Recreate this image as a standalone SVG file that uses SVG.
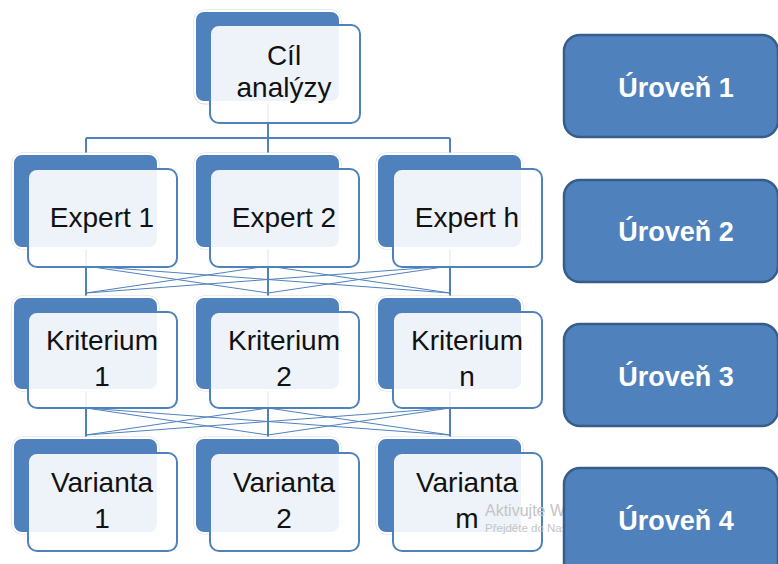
<svg xmlns="http://www.w3.org/2000/svg" width="778" height="564" viewBox="0 0 778 564">
<style>
.back{fill:#4f81bd;stroke:#ffffff;stroke-width:2}
.shadow{fill:none;stroke:#d9d9d9;stroke-width:1}
.front{fill:#ffffff;fill-opacity:0.9;stroke:#4f81bd;stroke-width:2}
.t{font-family:"Liberation Sans",Arial,sans-serif;font-size:28px;fill:#111111;text-anchor:middle}
.lvl{fill:#4f81bd;stroke:#385d8a;stroke-width:2.5}
.lt{font-family:"Liberation Sans",Arial,sans-serif;font-size:27px;font-weight:bold;fill:#ffffff;text-anchor:middle}
.thick{stroke:#4f81bd;stroke-width:2;fill:none}
.thin{stroke:#4f81bd;stroke-width:1;fill:none}
.wm{font-family:"Liberation Sans",Arial,sans-serif;fill:#c4c4c4}
</style>
<rect width="778" height="564" fill="#ffffff"/>
<g id="connectors">
  <path class="thick" d="M268 102V138M86 138H450M86 138V154M268 138V154M450 138V154"/>
  <path class="thick" d="M86 248V297M268 248V297M450 248V297"/>
  <path class="thin" d="M86 266L268 293M86 266L450 293M268 266L86 293M268 266L450 293M450 266L86 293M450 266L268 293"/>
  <path class="thick" d="M86 390V438M268 390V438M450 390V438"/>
  <path class="thin" d="M86 408L268 435M86 408L450 435M268 408L86 435M268 408L450 435M450 408L86 435M450 408L268 435"/>
</g>
<g id="goal">
  <rect class="shadow" x="194" y="10" width="147" height="94" rx="10"/>
  <rect class="back" x="195" y="11" width="145" height="91" rx="9"/>
  <rect class="front" x="210" y="25" width="150" height="98" rx="9"/>
  <text class="t" x="284" y="65">Cíl</text>
  <text class="t" x="284" y="97">analýzy</text>
</g>
<g id="expert1">
  <rect class="shadow" x="12" y="153" width="147" height="96" rx="10"/>
  <rect class="back" x="13" y="154" width="145" height="94" rx="9"/>
  <rect class="front" x="28" y="169" width="149" height="98" rx="9"/>
  <text class="t" x="102" y="227">Expert 1</text>
</g>
<g id="expert2">
  <rect class="shadow" x="194" y="153" width="147" height="96" rx="10"/>
  <rect class="back" x="195" y="154" width="145" height="94" rx="9"/>
  <rect class="front" x="210" y="169" width="149" height="98" rx="9"/>
  <text class="t" x="284" y="227">Expert 2</text>
</g>
<g id="experth">
  <rect class="shadow" x="376" y="153" width="147" height="96" rx="10"/>
  <rect class="back" x="377" y="154" width="145" height="94" rx="9"/>
  <rect class="front" x="393" y="169" width="149" height="98" rx="9"/>
  <text class="t" x="467" y="227">Expert h</text>
</g>
<g id="krit1">
  <rect class="shadow" x="12" y="296" width="147" height="95" rx="10"/>
  <rect class="back" x="13" y="297" width="145" height="93" rx="9"/>
  <rect class="front" x="28" y="312" width="149" height="96" rx="9"/>
  <text class="t" x="102" y="350">Kriterium</text>
  <text class="t" x="102" y="386">1</text>
</g>
<g id="krit2">
  <rect class="shadow" x="194" y="296" width="147" height="95" rx="10"/>
  <rect class="back" x="195" y="297" width="145" height="93" rx="9"/>
  <rect class="front" x="210" y="312" width="149" height="96" rx="9"/>
  <text class="t" x="284" y="350">Kriterium</text>
  <text class="t" x="284" y="386">2</text>
</g>
<g id="kritn">
  <rect class="shadow" x="376" y="296" width="147" height="95" rx="10"/>
  <rect class="back" x="377" y="297" width="145" height="93" rx="9"/>
  <rect class="front" x="393" y="312" width="149" height="96" rx="9"/>
  <text class="t" x="467" y="350">Kriterium</text>
  <text class="t" x="467" y="386">n</text>
</g>
<g id="var1">
  <rect class="shadow" x="12" y="437" width="147" height="97" rx="10"/>
  <rect class="back" x="13" y="438" width="145" height="95" rx="9"/>
  <rect class="front" x="28" y="453" width="149" height="98" rx="9"/>
  <text class="t" x="102" y="492">Varianta</text>
  <text class="t" x="102" y="528">1</text>
</g>
<g id="var2">
  <rect class="shadow" x="194" y="437" width="147" height="97" rx="10"/>
  <rect class="back" x="195" y="438" width="145" height="95" rx="9"/>
  <rect class="front" x="210" y="453" width="149" height="98" rx="9"/>
  <text class="t" x="284" y="492">Varianta</text>
  <text class="t" x="284" y="528">2</text>
</g>
<g id="varm">
  <rect class="shadow" x="376" y="437" width="147" height="97" rx="10"/>
  <rect class="back" x="377" y="438" width="145" height="95" rx="9"/>
  <rect class="front" x="393" y="453" width="149" height="98" rx="9"/>
  <text class="t" x="467" y="492">Varianta</text>
  <text class="t" x="467" y="528">m</text>
</g>
<g id="watermark">
  <text class="wm" x="485" y="516" font-size="16">Aktivujte Windows</text>
  <text class="wm" x="485" y="532" font-size="11.5">Přejděte do Nastavení</text>
</g>
<g id="level1">
  <rect class="lvl" x="564" y="35" width="214" height="102" rx="16"/>
  <text class="lt" x="676" y="97">Úroveň 1</text>
</g>
<g id="level2">
  <rect class="lvl" x="564" y="180" width="214" height="102" rx="16"/>
  <text class="lt" x="676" y="241">Úroveň 2</text>
</g>
<g id="level3">
  <rect class="lvl" x="564" y="324" width="214" height="102" rx="16"/>
  <text class="lt" x="676" y="386">Úroveň 3</text>
</g>
<g id="level4">
  <rect class="lvl" x="564" y="468" width="214" height="110" rx="16"/>
  <text class="lt" x="676" y="530">Úroveň 4</text>
</g>
</svg>
